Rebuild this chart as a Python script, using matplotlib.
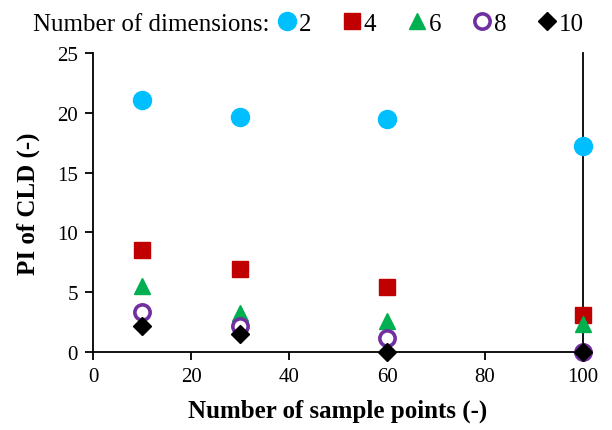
import numpy as np
import matplotlib.pyplot as plt

plt.rcParams['font.family'] = ['Liberation Serif', 'DejaVu Serif']

sample_points = [10, 30, 60, 100]
dims = ['2', '4', '6', '8', '10']
pi_cld = {
    '2': [21.1, 19.6, 19.45, 17.25],
    '4': [8.55, 6.95, 5.45, 3.1],
    '6': [5.5, 3.3, 2.6, 2.3],
    '8': [3.35, 2.15, 1.2, 0.0],
    '10': [2.2, 1.5, 0.0, 0.0],
}

styles = {
    '2': dict(marker='o', color='#00BFFF', markersize=13, markeredgecolor='#00BFFF'),
    '4': dict(marker='s', color='#C00000', markersize=11, markeredgecolor='#C00000'),
    '6': dict(marker='^', color='#00B050', markersize=12, markeredgecolor='#00B050'),
    '8': dict(marker='o', color='white', markersize=11, markeredgecolor='#7030A0',
              markeredgewidth=2.6),
    '10': dict(marker='D', color='black', markersize=9, markeredgecolor='black'),
}

fig = plt.figure(figsize=(6.12, 4.31), dpi=100)
ax = fig.add_axes([0.152, 0.181, 0.8007, 0.694])

for d in dims:
    ax.plot(sample_points, pi_cld[d], linestyle='none', label=d, clip_on=False,
            zorder=3, **styles[d])

ax.set_xlim(0, 100)
ax.set_ylim(0, 25)
ax.set_xticks(np.arange(0, 101, 20))
ax.set_yticks(np.arange(0, 26, 5))
ax.spines['top'].set_visible(False)
for s in ['left', 'right', 'bottom']:
    ax.spines[s].set_linewidth(1.3)
ax.tick_params(direction='out', length=6, width=1.3, labelsize=15, pad=5)
ax.set_xlabel('Number of sample points (-)', fontsize=18, fontweight='bold', labelpad=9)
ax.set_ylabel('PI of CLD (-)', fontsize=18, fontweight='bold', labelpad=12)

fig.text(33 / 612, 0.942, 'Number of dimensions:', fontsize=18, va='center')
fig.legend(loc='center left', bbox_to_anchor=(274 / 612, 0.942), ncol=5, frameon=False,
           fontsize=18, handletextpad=0.0, columnspacing=1.1, handlelength=1.0,
           borderpad=0, borderaxespad=0)

fig.savefig('out.png', dpi=100)
